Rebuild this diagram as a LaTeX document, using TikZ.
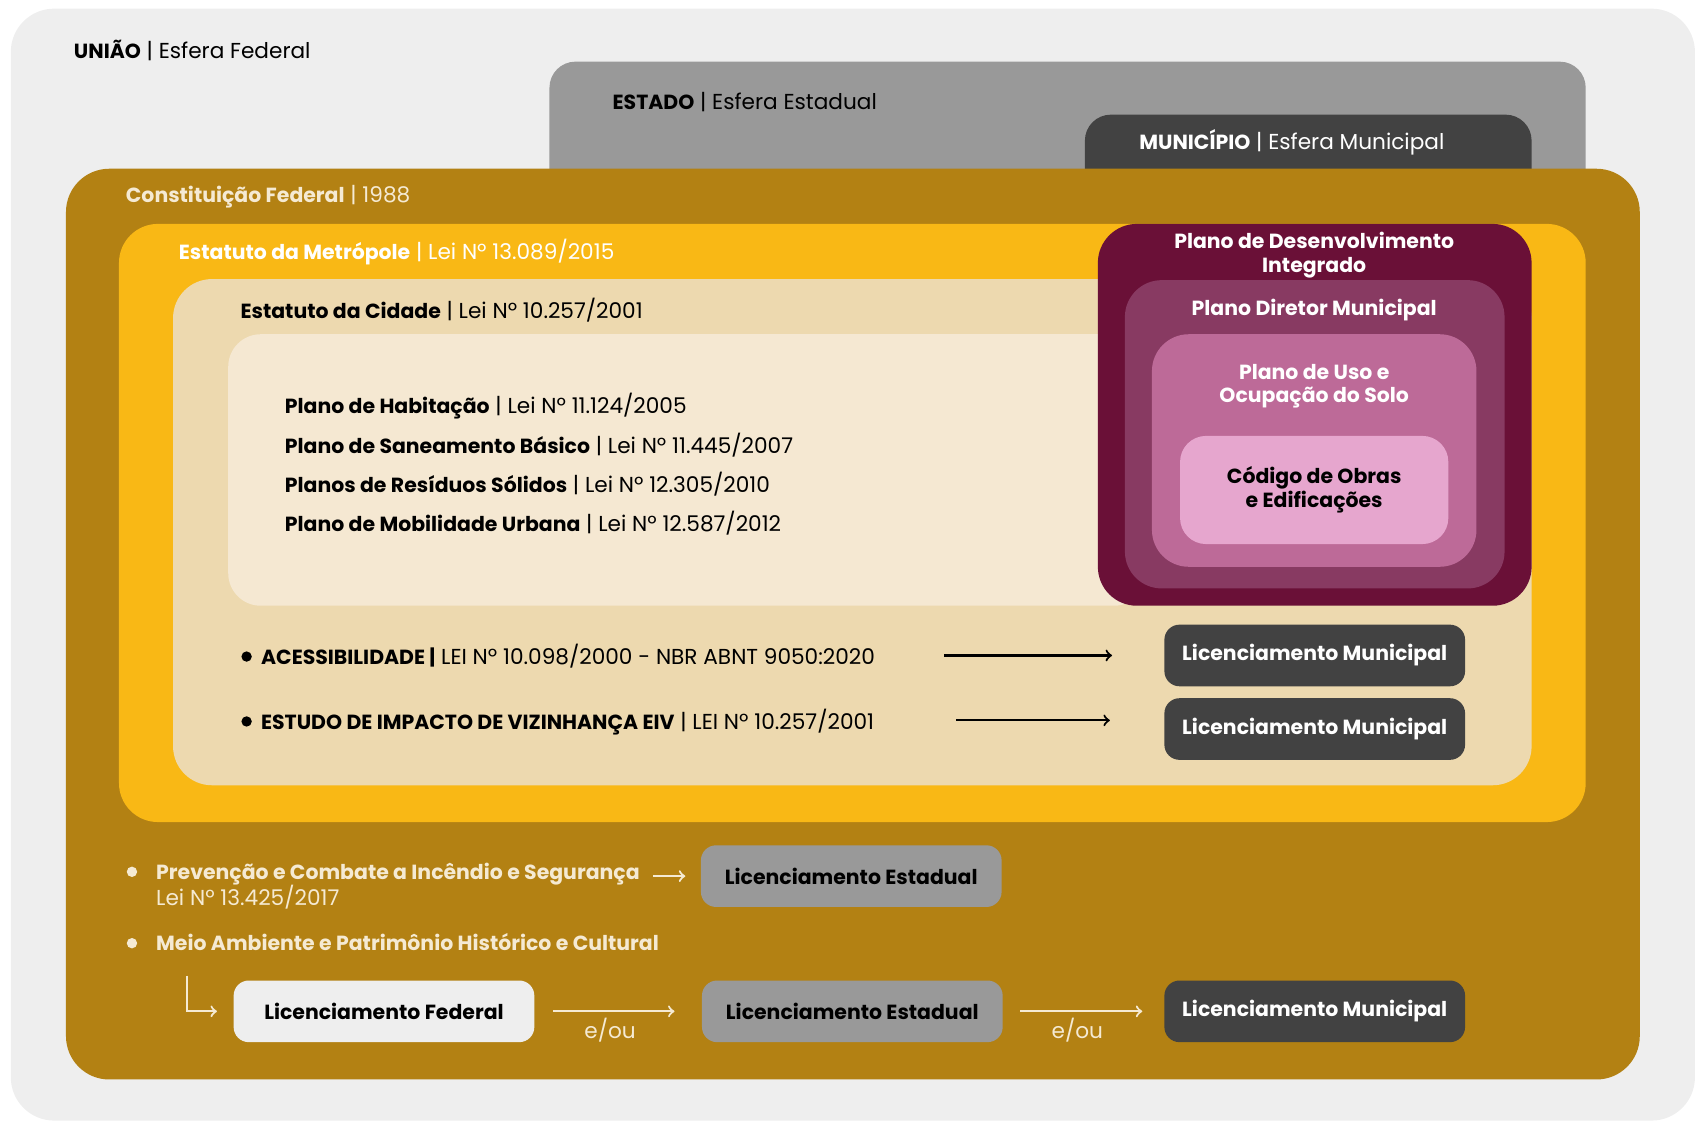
\documentclass[tikz,border=0pt]{standalone}
\usepackage{fontspec}
\setmainfont{Poppins}[BoldFeatures={Scale=0.945}]
\usetikzlibrary{arrows}

\definecolor{uniaogray}{HTML}{EEEEEE}
\definecolor{estadogray}{HTML}{999999}
\definecolor{munidark}{HTML}{424242}
\definecolor{constgold}{HTML}{B38113}
\definecolor{metroyellow}{HTML}{F9B815}
\definecolor{cidadebeige}{HTML}{EDD9AF}
\definecolor{planocream}{HTML}{F5E8D2}
\definecolor{pdiwine}{HTML}{6A1037}
\definecolor{diretorplum}{HTML}{883A62}
\definecolor{usopink}{HTML}{BD6A98}
\definecolor{codigopink}{HTML}{E6A6CE}
\definecolor{goldtext}{HTML}{F5EAD3}

\begin{document}
\begin{tikzpicture}[x=0.5pt,y=-0.5pt,
        lbl/.style={anchor=west, inner sep=0pt, text height=7pt, text depth=0pt, font=\fontsize{10}{12}\selectfont},
        boxlbl/.style={align=center, inner sep=0pt, font=\bfseries\fontsize{10}{11}\selectfont},
        licbox/.style={rounded corners=7pt, minimum width=139pt, minimum height=28.5pt, inner sep=0pt, font=\bfseries\fontsize{10}{12}\selectfont},
        flow/.style={->, line width=1pt}]
        \useasboundingbox (0,0) rectangle (1568,1038);

        \fill[uniaogray, rounded corners=20pt] (10,8) rectangle (1567,1036);
        \fill[estadogray, rounded corners=12pt] (508,57) rectangle (1466,200);
        \fill[munidark, rounded corners=12pt] (1003,106) rectangle (1416,200);
        \fill[constgold, rounded corners=20pt] (61,156) rectangle (1516,998);
        \fill[metroyellow, rounded corners=18pt] (110,207) rectangle (1466,760);
        \fill[cidadebeige, rounded corners=18pt] (160,258) rectangle (1416,726);
        \fill[planocream, rounded corners=15pt] (211,309) rectangle (1060,560);
        \fill[pdiwine, rounded corners=18pt] (1015,207) rectangle (1416,560);
        \fill[diretorplum, rounded corners=17pt] (1040,259) rectangle (1391,544);
        \fill[usopink, rounded corners=17pt] (1065,309) rectangle (1365,524);
        \fill[codigopink, rounded corners=12pt] (1091,403) rectangle (1339,503);

        \node[lbl] (uniao) at (68,47) {\textbf{UNIÃO} | Esfera Federal};
        \node[lbl] (estado) at (566,94) {\textbf{ESTADO} | Esfera Estadual};
        \node[lbl, text=white] (municipio) at (1053,131) {\textbf{MUNICÍPIO} | Esfera Municipal};
        \node[lbl, text=goldtext] (const) at (116,180) {\textbf{Constituição Federal} | 1988};
        \node[lbl, text=white] (metro) at (165,233) {\textbf{Estatuto da Metrópole} | Lei Nº 13.089/2015};
        \node[lbl] (cidade) at (222,287) {\textbf{Estatuto da Cidade} | Lei Nº 10.257/2001};

        \node[lbl] (habit) at (263,375) {\textbf{Plano de Habitação} | Lei Nº 11.124/2005};
        \node[lbl] (saneam) at (263,412) {\textbf{Plano de Saneamento Básico} | Lei Nº 11.445/2007};
        \node[lbl] (resid) at (263,448) {\textbf{Planos de Resíduos Sólidos} | Lei Nº 12.305/2010};
        \node[lbl] (mobil) at (263,484) {\textbf{Plano de Mobilidade Urbana} | Lei Nº 12.587/2012};

        \node[boxlbl, text=white] (pdi) at (1215,236) {Plano de Desenvolvimento\\Integrado};
        \node[boxlbl, text=white] (diretor) at (1215,287) {Plano Diretor Municipal};
        \node[boxlbl, text=white] (uso) at (1215,357) {Plano de Uso e\\Ocupação do Solo};
        \node[boxlbl] (codigo) at (1215,453) {Código de Obras\\e Edificações};

        \fill (228,607) circle (2.4pt);
        \fill (228,667) circle (2.4pt);
        \node[lbl] (acess) at (241,607) {\textbf{ACESSIBILIDADE |} LEI Nº 10.098/2000 - NBR ABNT 9050:2020};
        \node[lbl] (eiv) at (241,667) {\textbf{ESTUDO DE IMPACTO DE VIZINHANÇA EIV} | LEI Nº 10.257/2001};
        \node[licbox, fill=munidark, text=white] (licmA) at (1215.5,606) {Licenciamento Municipal};
        \node[licbox, fill=munidark, text=white] (licmB) at (1215.5,674) {Licenciamento Municipal};
        \coordinate (acessend) at (873,606);
        \coordinate (eivend) at (884,666);
        \draw[flow, shorten >=24pt] (acessend) -- (licmA.west);
        \draw[flow, shorten >=25pt] (eivend) -- (eivend -| licmB.west);

        \fill[goldtext] (122,806) circle (2.4pt);
        \fill[goldtext] (122,872) circle (2.4pt);
        \node[lbl, text=goldtext] (incendio) at (144,806) {\textbf{Prevenção e Combate a Incêndio e Segurança}};
        \node[lbl, text=goldtext] (incendiolei) at (144,830) {Lei Nº 13.425/2017};
        \node[lbl, text=goldtext] (ambiente) at (144,872) {\textbf{Meio Ambiente e Patrimônio Histórico e Cultural}};

        \node[licbox, fill=estadogray] (liceA) at (787,810) {Licenciamento Estadual};
        \node[licbox, fill=uniaogray] (licf) at (355,935) {Licenciamento Federal};
        \node[licbox, fill=estadogray] (liceB) at (788,935) {Licenciamento Estadual};
        \node[licbox, fill=munidark, text=white] (licmC) at (1215.5,935) {Licenciamento Municipal};

        \coordinate (incendioend) at (604,810);
        \coordinate (ambientestart) at (173,902);
        \draw[flow, goldtext, shorten >=7pt] (incendioend) -- (liceA.west);
        \draw[flow, goldtext, shorten >=7.5pt] (ambientestart) |- (licf.west);
        \draw[flow, goldtext, shorten <=8.5pt, shorten >=12.5pt] (licf.east) -- (liceB.west);
        \draw[flow, goldtext, shorten <=8pt, shorten >=10pt] (liceB.east) -- (licmC.west);
        \node[lbl, anchor=center, text=goldtext] (eouA) at (564,953) {e/ou};
        \node[lbl, anchor=center, text=goldtext] (eouB) at (996,953) {e/ou};
\end{tikzpicture}
\end{document}
